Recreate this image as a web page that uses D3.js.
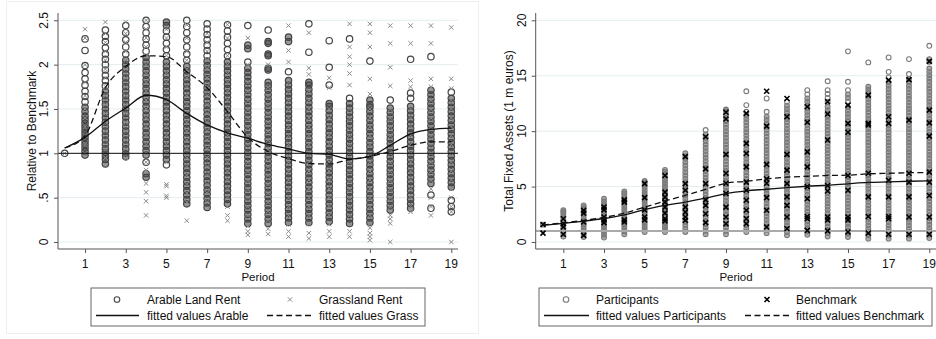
<!DOCTYPE html>
<html><head><meta charset="utf-8">
<script src="https://cdn.jsdelivr.net/npm/d3@7"></script>
<style>body{margin:0;background:#fff}svg{display:block;font-family:Arial,"Liberation Sans",sans-serif}</style>
</head><body><svg id="c" width="936" height="339"></svg>
<script>
// ---------- shared categories ----------
const periods = [0,1,2,3,4,5,6,7,8,9,10,11,12,13,14,15,16,17,18,19];
const xTickValues = [1,3,5,7,9,11,13,15,17,19];

// ---------- left panel ----------
const leftYTicks = [0,0.5,1,1.5,2,2.5];
const leftYTickLabels = ["0",".5","1","1.5","2","2.5"];
const arableRent = [
[1.0],
[0.98,1.02,1.06,1.1,1.14,1.18,1.22,1.26,1.3,1.34,1.38,1.42,1.47,1.52,1.58,1.64,1.7,1.77,1.84,1.91,1.99,2.16,2.29],
[0.88,0.93,0.97,1.01,1.05,1.1,1.15,1.2,1.25,1.3,1.35,1.4,1.45,1.5,1.55,1.6,1.65,1.7,1.76,1.82,1.88,1.94,2.0,2.06,2.12,2.19,2.26,2.32,2.39],
[0.96,1.0,1.05,1.1,1.15,1.2,1.25,1.3,1.35,1.4,1.45,1.5,1.55,1.6,1.65,1.7,1.75,1.8,1.85,1.9,1.95,2.0,2.05,2.12,2.2,2.28,2.36,2.44],
[0.73,0.77,0.9,0.98,1.03,1.08,1.13,1.18,1.23,1.28,1.33,1.38,1.43,1.48,1.53,1.58,1.63,1.68,1.73,1.78,1.83,1.88,1.93,1.98,2.03,2.08,2.15,2.22,2.29,2.36,2.43,2.5],
[0.87,0.93,0.98,1.03,1.08,1.13,1.18,1.23,1.28,1.33,1.38,1.43,1.48,1.53,1.58,1.63,1.68,1.73,1.78,1.83,1.88,1.93,1.98,2.03,2.1,2.17,2.24,2.31,2.38,2.44,2.48],
[0.43,0.48,0.53,0.58,0.63,0.68,0.73,0.78,0.83,0.88,0.93,0.98,1.03,1.08,1.13,1.18,1.23,1.28,1.33,1.38,1.43,1.48,1.53,1.58,1.63,1.68,1.73,1.78,1.83,1.88,1.93,1.98,2.05,2.12,2.2,2.28,2.36,2.43,2.5],
[0.39,0.44,0.49,0.54,0.59,0.64,0.69,0.74,0.79,0.84,0.89,0.94,0.99,1.04,1.09,1.14,1.19,1.24,1.29,1.34,1.39,1.44,1.49,1.54,1.59,1.64,1.69,1.74,1.79,1.84,1.89,1.94,1.99,2.04,2.1,2.16,2.22,2.28,2.34,2.4,2.46],
[0.43,0.48,0.53,0.58,0.63,0.68,0.73,0.78,0.83,0.88,0.93,0.98,1.03,1.08,1.13,1.18,1.23,1.28,1.33,1.38,1.43,1.48,1.53,1.58,1.63,1.68,1.73,1.78,1.83,1.88,1.93,1.98,2.03,2.1,2.17,2.24,2.31,2.38,2.45],
[0.21,0.26,0.31,0.36,0.41,0.46,0.51,0.56,0.61,0.66,0.71,0.76,0.81,0.86,0.91,0.96,1.01,1.06,1.11,1.16,1.21,1.26,1.31,1.36,1.41,1.46,1.51,1.56,1.61,1.66,1.71,1.76,1.81,1.86,1.91,1.96,2.03,2.18,2.22,2.44],
[0.21,0.26,0.31,0.36,0.41,0.46,0.51,0.56,0.61,0.66,0.71,0.76,0.81,0.86,0.91,0.96,1.01,1.06,1.11,1.16,1.21,1.26,1.31,1.36,1.41,1.46,1.51,1.56,1.61,1.66,1.71,1.76,1.8,1.94,1.96,2.1,2.12,2.24,2.26,2.39],
[0.22,0.27,0.32,0.37,0.42,0.47,0.52,0.57,0.62,0.67,0.72,0.77,0.82,0.87,0.92,0.97,1.02,1.07,1.12,1.17,1.22,1.27,1.32,1.37,1.42,1.47,1.52,1.57,1.62,1.67,1.72,1.77,1.82,1.92,2.26,2.31],
[0.22,0.27,0.32,0.37,0.42,0.47,0.52,0.57,0.62,0.67,0.72,0.77,0.82,0.87,0.92,0.97,1.02,1.07,1.12,1.17,1.22,1.27,1.32,1.37,1.42,1.47,1.52,1.57,1.62,1.67,1.72,1.77,1.8,2.14,2.46],
[0.23,0.28,0.33,0.38,0.43,0.48,0.53,0.58,0.63,0.68,0.73,0.78,0.83,0.88,0.93,0.98,1.03,1.08,1.13,1.18,1.23,1.28,1.33,1.38,1.43,1.48,1.53,1.56,1.77,1.97,2.27],
[0.21,0.26,0.31,0.36,0.41,0.46,0.51,0.56,0.61,0.66,0.71,0.76,0.81,0.86,0.91,0.96,1.01,1.06,1.11,1.16,1.21,1.26,1.31,1.36,1.41,1.46,1.51,1.56,1.62,2.29],
[0.22,0.27,0.32,0.37,0.42,0.47,0.52,0.57,0.62,0.67,0.72,0.77,0.82,0.87,0.92,0.97,1.02,1.07,1.12,1.17,1.22,1.27,1.32,1.37,1.42,1.47,1.52,1.55,1.6,2.04],
[0.36,0.41,0.46,0.51,0.56,0.61,0.66,0.71,0.76,0.81,0.86,0.91,0.96,1.01,1.06,1.11,1.16,1.21,1.26,1.31,1.36,1.41,1.46,1.51,1.6],
[0.38,0.43,0.48,0.53,0.58,0.63,0.68,0.73,0.78,0.83,0.88,0.93,0.98,1.03,1.08,1.13,1.18,1.23,1.28,1.33,1.38,1.43,1.48,1.53,1.62,1.68,2.06],
[0.38,0.53,0.66,0.71,0.76,0.81,0.86,0.91,0.96,1.01,1.06,1.11,1.16,1.21,1.26,1.31,1.36,1.41,1.46,1.51,1.56,1.61,1.66,1.71,2.09],
[0.34,0.4,0.47,0.62,0.67,0.72,0.77,0.82,0.87,0.92,0.97,1.02,1.07,1.12,1.17,1.22,1.27,1.32,1.37,1.42,1.47,1.52,1.57,1.62,1.69]
];
const grasslandRent = [
[1.0],
[1.0,1.1,1.2,1.3,1.4,1.5,1.65,1.8,2.0,2.3,2.4],
[0.95,1.05,1.15,1.25,1.35,1.45,1.55,1.65,1.75,1.85,1.95,2.05,2.15,2.25,2.35,2.48],
[0.95,1.05,1.15,1.25,1.35,1.45,1.55,1.65,1.75,1.85,1.95,2.05,2.15,2.25,2.35,2.48],
[0.3,0.46,0.56,0.66,0.81,0.9,1.0,1.1,1.2,1.3,1.4,1.5,1.6,1.7,1.8,1.9,2.0,2.1,2.2,2.3,2.4,2.5],
[0.5,0.52,0.63,0.65,0.9,1.0,1.1,1.2,1.3,1.4,1.5,1.6,1.7,1.8,1.9,2.0,2.1,2.2,2.3,2.4],
[0.24,0.45,0.55,0.65,0.75,0.85,0.95,1.05,1.15,1.25,1.35,1.45,1.55,1.65,1.75,1.85,1.95,2.05,2.15,2.3,2.45],
[0.45,0.55,0.65,0.75,0.85,0.95,1.05,1.15,1.25,1.35,1.45,1.55,1.65,1.75,1.85,1.95,2.05,2.15,2.25,2.35],
[0.24,0.3,0.4,0.5,0.6,0.7,0.8,0.9,1.0,1.1,1.2,1.3,1.4,1.5,1.6,1.7,1.8,1.9,2.0,2.1,2.3,2.45],
[0.08,0.12,0.18,0.3,0.4,0.5,0.6,0.7,0.8,0.9,1.0,1.1,1.2,1.3,1.4,1.5,1.6,1.7,1.8,2.0,2.3],
[0.09,0.15,0.25,0.35,0.45,0.55,0.65,0.75,0.85,0.95,1.05,1.15,1.25,1.35,1.45,1.55,1.65,1.75,2.0],
[0.06,0.12,0.2,0.3,0.4,0.5,0.6,0.7,0.8,0.9,1.0,1.1,1.2,1.3,1.4,1.5,1.6,1.7,1.8,2.03,2.16,2.44],
[0.04,0.1,0.2,0.3,0.4,0.5,0.6,0.7,0.8,0.9,1.0,1.1,1.2,1.3,1.4,1.5,1.6,1.7,1.89,1.96,2.36],
[0.06,0.12,0.2,0.3,0.4,0.5,0.6,0.7,0.8,0.9,1.0,1.1,1.2,1.3,1.4,1.5,1.74,1.85],
[0.06,0.12,0.2,0.3,0.4,0.5,0.6,0.7,0.8,0.9,1.0,1.1,1.2,1.3,1.4,1.5,1.77,1.9,2.0,2.09,2.2,2.46],
[0.02,0.06,0.1,0.16,0.2,0.3,0.4,0.5,0.6,0.7,0.8,0.9,1.0,1.1,1.2,1.3,1.4,1.5,1.67,1.84,2.2,2.36,2.46],
[0.0,0.21,0.26,0.3,0.4,0.5,0.6,0.7,0.8,0.9,1.0,1.1,1.2,1.3,1.4,1.5,1.76,1.97,2.24,2.44],
[0.34,0.4,0.5,0.6,0.7,0.8,0.9,1.0,1.1,1.2,1.3,1.4,1.5,1.75,1.82,2.24,2.44],
[0.3,0.4,0.5,0.6,0.7,0.8,0.9,1.0,1.1,1.2,1.3,1.4,1.5,1.6,1.75,1.84,2.24,2.44],
[0.0,0.34,0.4,0.5,0.6,0.7,0.8,0.9,1.0,1.1,1.2,1.3,1.4,1.5,1.6,1.73,1.84,2.42]
];
const fittedArable = [1.06,1.18,1.36,1.51,1.655,1.605,1.45,1.32,1.23,1.17,1.1,1.05,1.0,0.988,0.935,0.965,1.09,1.22,1.27,1.285];
const fittedGrass  = [1.06,1.2,1.74,1.98,2.1,2.09,1.92,1.74,1.47,1.18,1.02,0.94,0.885,0.88,0.93,0.965,1.02,1.09,1.13,1.13];

// ---------- right panel ----------
const rightYTicks = [0,5,10,15,20];
const participants = [
[1.57],
[0.5,0.75,1.0,1.25,1.5,1.75,2.0,2.25,2.5,2.7,2.86],
[0.45,0.7,0.95,1.2,1.45,1.7,1.95,2.2,2.45,2.7,2.95,3.15,3.3],
[0.4,0.65,0.9,1.15,1.4,1.65,1.9,2.15,2.4,2.65,2.9,3.15,3.4,3.65,3.9],
[0.7,0.95,1.2,1.45,1.7,1.95,2.2,2.45,2.7,2.95,3.2,3.45,3.7,3.95,4.2,4.4,4.57],
[0.9,1.15,1.4,1.65,1.9,2.15,2.4,2.65,2.9,3.15,3.4,3.65,3.9,4.15,4.4,4.65,4.9,5.15,5.35,5.5],
[0.9,1.15,1.4,1.65,1.9,2.15,2.4,2.65,2.9,3.15,3.4,3.65,3.9,4.15,4.4,4.65,4.9,5.15,5.4,5.65,5.9,6.15,6.35,6.5],
[0.9,1.2,1.5,1.8,2.1,2.4,2.7,3.0,3.3,3.6,3.9,4.2,4.5,4.8,5.1,5.4,5.7,6.0,6.3,6.6,6.9,7.2,7.5,7.75,8.0],
[0.7,1.0,1.3,1.6,1.9,2.2,2.5,2.8,3.1,3.4,3.7,4.0,4.3,4.6,4.9,5.2,5.5,5.8,6.1,6.4,6.7,7.0,7.3,7.6,7.9,8.2,8.5,8.8,9.1,9.4,9.7,10.1],
[0.7,1.0,1.3,1.6,1.9,2.2,2.5,2.8,3.1,3.4,3.7,4.0,4.3,4.6,4.9,5.2,5.5,5.8,6.1,6.4,6.7,7.0,7.3,7.6,7.9,8.2,8.5,8.8,9.1,9.4,9.7,10.0,10.3,10.6,10.9,11.2,11.5,11.8,11.95],
[0.9,1.2,1.5,1.8,2.1,2.4,2.7,3.0,3.3,3.6,3.9,4.2,4.5,4.8,5.1,5.4,5.7,6.0,6.3,6.6,6.9,7.2,7.5,7.8,8.1,8.4,8.7,9.0,9.3,9.6,9.9,10.2,10.5,10.8,11.1,11.4,11.75,12.35,13.6],
[0.8,1.1,1.4,1.7,2.0,2.3,2.6,2.9,3.2,3.5,3.8,4.1,4.4,4.7,5.0,5.3,5.6,5.9,6.2,6.5,6.8,7.1,7.4,7.7,8.0,8.3,8.6,8.9,9.2,9.5,9.8,10.1,10.4,10.7,11.0,11.3,11.75,12.95],
[0.6,0.9,1.2,1.5,1.8,2.1,2.4,2.7,3.0,3.3,3.6,3.9,4.2,4.5,4.8,5.1,5.4,5.7,6.0,6.3,6.6,6.9,7.2,7.5,7.8,8.1,8.4,8.7,9.0,9.3,9.6,9.9,10.2,10.5,10.8,11.1,11.4,11.7,12.0,12.3,12.65],
[0.65,0.95,1.25,1.55,1.85,2.15,2.45,2.75,3.05,3.35,3.65,3.95,4.25,4.55,4.85,5.15,5.45,5.75,6.05,6.35,6.65,6.95,7.25,7.55,7.85,8.15,8.45,8.75,9.05,9.35,9.65,9.95,10.25,10.55,10.85,11.15,11.45,11.75,12.05,12.35,12.65,12.95,13.3,13.7],
[0.5,0.8,1.1,1.4,1.7,2.0,2.3,2.6,2.9,3.2,3.5,3.8,4.1,4.4,4.7,5.0,5.3,5.6,5.9,6.2,6.5,6.8,7.1,7.4,7.7,8.0,8.3,8.6,8.9,9.2,9.5,9.8,10.1,10.4,10.7,11.0,11.3,11.6,11.9,12.2,12.65,13.0,13.35,13.7,14.5],
[0.45,0.75,1.05,1.35,1.65,1.95,2.25,2.55,2.85,3.15,3.45,3.75,4.05,4.35,4.65,4.95,5.25,5.55,5.85,6.15,6.45,6.75,7.05,7.35,7.65,7.95,8.25,8.55,8.85,9.15,9.45,9.75,10.05,10.35,10.65,10.95,11.25,11.55,11.85,12.15,12.65,13.0,13.3,13.7,14.45,17.2],
[0.3,0.6,0.9,1.2,1.5,1.8,2.1,2.4,2.7,3.0,3.3,3.6,3.9,4.2,4.5,4.8,5.1,5.4,5.7,6.0,6.3,6.6,6.9,7.2,7.5,7.8,8.1,8.4,8.7,9.0,9.3,9.6,9.9,10.2,10.5,10.8,11.1,11.4,11.7,12.0,12.3,12.6,12.9,13.2,13.5,13.75,14.0,16.2],
[0.3,0.6,0.9,1.2,1.5,1.8,2.1,2.4,2.7,3.0,3.3,3.6,3.9,4.2,4.5,4.8,5.1,5.4,5.7,6.0,6.3,6.6,6.9,7.2,7.5,7.8,8.1,8.4,8.7,9.0,9.3,9.6,9.9,10.2,10.5,10.8,11.1,11.4,11.7,12.0,12.3,12.6,12.9,13.2,13.5,13.8,14.1,14.4,14.85,15.35,16.65],
[0.3,0.6,0.9,1.2,1.5,1.8,2.1,2.4,2.7,3.0,3.3,3.6,3.9,4.2,4.5,4.8,5.1,5.4,5.7,6.0,6.3,6.6,6.9,7.2,7.5,7.8,8.1,8.4,8.7,9.0,9.3,9.6,9.9,10.2,10.5,10.8,11.1,11.4,11.7,12.0,12.3,12.6,12.9,13.2,13.5,13.8,14.1,14.4,14.7,15.15,16.5],
[0.35,0.65,0.95,1.25,1.55,1.85,2.15,2.45,2.75,3.05,3.35,3.65,3.95,4.25,4.55,4.85,5.15,5.45,5.75,6.05,6.35,6.65,6.95,7.25,7.55,7.85,8.15,8.45,8.75,9.05,9.35,9.65,9.95,10.25,10.55,10.85,11.15,11.45,11.75,12.05,12.35,12.65,12.95,13.25,13.55,13.85,14.15,14.45,14.75,15.05,15.35,15.65,16.25,16.5,17.7]
];
const benchmark = [
[1.57,0.8],
[2.1,1.65,1.35,0.7],
[2.85,2.6,1.8,0.6],
[3.15,2.9,2.25,2.0,1.75],
[3.8,3.6,2.0,1.8],
[5.27,4.0,2.9,2.25,2.0],
[6.0,4.5,4.05,3.6,3.15,2.6,2.1,1.9],
[7.7,5.27,4.67,3.15,2.7,2.25,1.95],
[9.5,6.6,5.27,3.8,3.3,2.55,1.75],
[11.7,11.1,7.9,6.2,5.3,4.37,3.15,2.25,1.65],
[11.6,8.9,7.98,6.78,5.4,4.67,3.77,2.86,2.1,1.65],
[13.6,10.45,7.0,5.7,5.3,4.0,2.86,1.35],
[12.95,11.3,7.9,6.48,5.27,4.07,3.3,2.25,1.2],
[12.2,10.8,8.13,6.78,5.0,3.9,2.3,2.1,1.05],
[12.65,11.55,9.2,5.1,4.6,2.25,2.0,1.0],
[12.35,10.7,9.9,6.0,4.67,2.25,2.0,0.9],
[13.25,10.7,10.55,6.2,4.07,2.3,0.8],
[14.6,11.3,10.7,5.57,4.07,2.3,2.1,0.7],
[14.65,11.0,6.2,5.4,4.07,2.25,0.7],
[16.3,11.9,10.75,9.55,6.3,5.4,4.2,2.25,0.7]
];
const fittedParticipants = [1.5,1.68,1.88,2.12,2.45,2.93,3.3,3.6,3.95,4.37,4.62,4.76,4.91,5.03,5.12,5.25,5.37,5.42,5.48,5.51];
const fittedBenchmark    = [1.55,1.72,1.95,2.22,2.6,3.15,3.7,4.2,4.75,5.3,5.48,5.69,5.85,5.93,6.0,6.03,6.15,6.2,6.25,6.27];

// ---------- drawing ----------
const svg = d3.select('#c');
const FONT = 12;
const xMark = s => `M${-s},${-s}L${s},${s}M${-s},${s}L${s},${-s}`;

// flatten; mark a point as "crowded" when another value of the same period lies close by
function flat(arr, near){
  const out=[];
  arr.forEach((vals,i)=>vals.forEach((v,j)=>{
    const crowded = vals.some((w,k)=>k!==j && Math.abs(w-v)<=near);
    out.push({p:periods[i],v,crowded});
  }));
  return out;
}

function panel(o){
  const g = svg.append('g');
  const x = d3.scaleLinear().domain([0,19]).range(o.xRange);
  const y = d3.scaleLinear().domain(o.yDomain).range([242,20.3]);
  const top = 13, bottom = 249;

  // grid
  g.append('g').selectAll('line').data(o.yTicks).join('line')
    .attr('x1',o.left).attr('x2',o.right)
    .attr('y1',d=>y(d)).attr('y2',d=>y(d))
    .attr('stroke','#e4edf0').attr('stroke-width',1);

  // points series A (hollow circles; overlapping ones merge into a dense column)
  g.append('g').selectAll('circle').data(flat(o.seriesA,o.near)).join('circle')
    .attr('cx',d=>x(d.p)).attr('cy',d=>y(d.v)).attr('r',o.rA)
    .attr('fill',d=>d.crowded?o.colA:'none').attr('fill-opacity',o.fillA)
    .attr('stroke',o.colA).attr('stroke-width',o.swA);

  if(o.refBefore) o.refLine(g,x,y);

  // points series B (x)
  g.append('g').selectAll('path').data(flat(o.seriesB,0)).join('path')
    .attr('transform',d=>`translate(${x(d.p)},${y(d.v)})`)
    .attr('d',xMark(o.sB)).attr('fill','none').attr('stroke',o.colB).attr('stroke-width',o.swB);

  if(!o.refBefore) o.refLine(g,x,y);

  // fitted lines
  const line = d3.line().x((d,i)=>x(periods[i])).y(d=>y(d)).curve(d3.curveMonotoneX);
  g.append('path').attr('d',line(o.fitA)).attr('fill','none').attr('stroke','#111').attr('stroke-width',1.3);
  g.append('path').attr('d',line(o.fitB)).attr('fill','none').attr('stroke','#111').attr('stroke-width',1.3).attr('stroke-dasharray','6,3.5');

  // axes
  const ax = g.append('g').attr('transform',`translate(0,${bottom})`)
    .call(d3.axisBottom(x).tickValues(xTickValues).tickSize(4).tickFormat(''));
  ax.select('.domain').remove();
  const ay = g.append('g').attr('transform',`translate(${o.left},0)`)
    .call(d3.axisLeft(y).tickValues(o.yTicks).tickSize(4).tickFormat(''));
  ay.select('.domain').remove();
  g.selectAll('.tick line').attr('stroke','#555');
  g.append('line').attr('x1',o.left).attr('x2',o.left).attr('y1',top).attr('y2',bottom).attr('stroke','#555');
  g.append('line').attr('x1',o.left).attr('x2',o.right).attr('y1',bottom).attr('y2',bottom).attr('stroke','#555');

  // tick labels
  g.append('g').selectAll('text').data(xTickValues).join('text')
    .attr('x',d=>x(d)).attr('y',268).attr('text-anchor','middle')
    .attr('font-size',FONT).attr('fill','#111').text(d=>d);
  g.append('g').selectAll('text').data(o.yTicks).join('text')
    .attr('transform',(d)=>`translate(${o.yLabelX},${y(d)}) rotate(-90)`)
    .attr('text-anchor','middle').attr('font-size',FONT).attr('fill','#111')
    .text((d,i)=>o.yTickLabels[i]);

  // titles
  g.append('text').attr('x',o.periodX).attr('y',281).attr('text-anchor','middle')
    .attr('font-size',11.5).attr('fill','#111').text('Period');
  g.append('text').attr('transform',`translate(${o.yTitleX},131) rotate(-90)`)
    .attr('text-anchor','middle').attr('font-size',FONT).attr('fill','#111').text(o.yTitle);

  // legend
  const L = o.legend;
  g.append('rect').attr('x',L.x0).attr('y',288).attr('width',L.x1-L.x0).attr('height',38)
    .attr('fill','#fff').attr('stroke','#666').attr('stroke-width',1);
  g.append('circle').attr('cx',L.symA).attr('cy',299.5).attr('r',2.8).attr('fill','none')
    .attr('stroke',o.colA).attr('stroke-width',1.1);
  g.append('path').attr('transform',`translate(${L.symB},299.5)`).attr('d',xMark(L.sB))
    .attr('stroke',o.colB).attr('stroke-width',o.swB);
  g.append('line').attr('x1',L.lineA[0]).attr('x2',L.lineA[1]).attr('y1',315.5).attr('y2',315.5)
    .attr('stroke','#111').attr('stroke-width',1.3);
  g.append('line').attr('x1',L.lineB[0]).attr('x2',L.lineB[1]).attr('y1',315.5).attr('y2',315.5)
    .attr('stroke','#111').attr('stroke-width',1.3).attr('stroke-dasharray','6,3.5');
  [[L.textA,304,L.labels[0]],[L.textB,304,L.labels[1]],[L.textA,320,L.labels[2]],[L.textB,320,L.labels[3]]]
    .forEach(([tx,ty,t])=>g.append('text').attr('x',tx).attr('y',ty).attr('font-size',FONT).attr('fill','#111').text(t));
}

// faint outer frame of left graph
svg.append('rect').attr('x',6.5).attr('y',1.5).attr('width',472).attr('height',332)
  .attr('fill','none').attr('stroke','#efefef');

panel({
  xRange:[64.7,451.3], yDomain:[0,2.5], left:58, right:458,
  yTicks:leftYTicks, yTickLabels:leftYTickLabels, yLabelX:47.5, yTitleX:36, periodX:258,
  yTitle:'Relative to Benchmark',
  seriesA:arableRent, near:0.055, colA:'#444', fillA:0.55, rA:3.2, swA:1.2,
  seriesB:grasslandRent, colB:'#8a8a8a', sB:2.2, swB:1,
  fitA:fittedArable, fitB:fittedGrass, refBefore:false,
  refLine:(g,x,y)=>g.append('line').attr('x1',58).attr('x2',458).attr('y1',y(1)).attr('y2',y(1)).attr('stroke','#111').attr('stroke-width',1),
  legend:{x0:91,x1:425,symA:117,symB:290,sB:2.2,lineA:[96,139],lineB:[267,312],textA:147,textB:319,
    labels:['Arable Land Rent','Grassland Rent','fitted values Arable','fitted values Grass']}
});

panel({
  xRange:[543,929.3], yDomain:[0,20], left:535.7, right:936,
  yTicks:rightYTicks, yTickLabels:rightYTicks.map(String), yLabelX:526, yTitleX:513, periodX:736,
  yTitle:'Total Fixed Assets (1 m euros)',
  seriesA:participants, near:0.31, colA:'#7a7a7a', fillA:0.6, rA:2.4, swA:1.1,
  seriesB:benchmark, colB:'#000', sB:2.5, swB:1.6,
  fitA:fittedParticipants, fitB:fittedBenchmark, refBefore:true,
  refLine:(g,x,y)=>g.append('line').attr('x1',535.7).attr('x2',936).attr('y1',y(1)).attr('y2',y(1)).attr('stroke','#aaa').attr('stroke-width',2),
  legend:{x0:539,x1:932,symA:566,symB:767,sB:2.5,lineA:[544,589],lineB:[745,790],textA:596,textB:796,
    labels:['Participants','Benchmark','fitted values Participants','fitted values Benchmark']}
});
</script></body></html>
